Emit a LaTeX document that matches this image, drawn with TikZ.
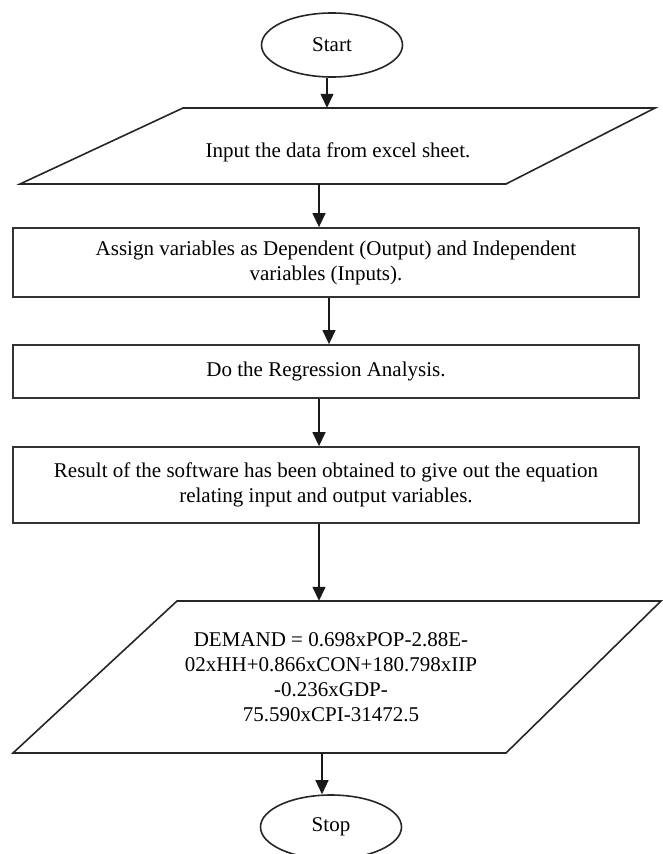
\documentclass[tikz,border=0pt]{standalone}
\usepackage{fontspec}
\setmainfont{Liberation Serif}
\usetikzlibrary{shapes.geometric,arrows.meta}
\begin{document}
\begin{tikzpicture}[x=1pt,y=-1pt,
  every node/.style={font=\fontsize{21}{25}\selectfont},
  term/.style={ellipse, draw=black!85, line width=1.6pt, minimum width=141pt, minimum height=64pt, inner sep=0pt},
  procbox/.style={rectangle, draw=black!80, line width=1.8pt, minimum width=626pt, inner sep=0pt, align=center},
  iotext/.style={draw=none, inner sep=0pt, align=center, minimum width=300pt},
  para/.style={draw=black!85, line width=1.6pt, line join=miter},
  arr/.style={-{Triangle[length=14pt,width=13pt]}, line width=1.4pt, draw=black!90}]
\useasboundingbox (0,0) rectangle (663,854);

% terminals
\node[term] (start) at (332,45) {Start};
\node[term] (stop) at (331,827) {Stop};

% input parallelogram
\draw[para] (20,184) -- (506,184) -- (655,108) -- (183,108) -- cycle;
\node[iotext, minimum height=76pt] (p1) at (338,146) {};
\node[iotext] (p1t) at (338,152) {Input the data from excel sheet.};

% process boxes
\node[procbox, minimum height=69pt] (b1) at (326,262.5)
  {\hspace*{20pt}Assign variables as Dependent (Output) and Independent\\variables (Inputs).};
\node[procbox, minimum height=53pt] (b2) at (326,371.5) {Do the Regression Analysis.};
\node[procbox, minimum height=76pt] (b3) at (326,485)
  {Result of the software has been obtained to give out the equation\\relating input and output variables.};

% output parallelogram
\draw[para] (13,753) -- (506,753) -- (661,601) -- (177,601) -- cycle;
\node[iotext, minimum height=152pt] (p2) at (331,677)
  {DEMAND = 0.698xPOP-2.88E-\\02xHH+0.866xCON+180.798xIIP\\-0.236xGDP-\\75.590xCPI-31472.5};

% connectors
\draw[arr] ([xshift=-5pt]start.south) -- ([xshift=-5pt]start.south |- p1.north);
\draw[arr] ([xshift=-19pt]p1.south) -- ([xshift=-19pt]p1.south |- b1.north);
\draw[arr] ([xshift=3pt]b1.south) -- ([xshift=3pt]b1.south |- b2.north);
\draw[arr] ([xshift=-7pt]b2.south) -- ([xshift=-7pt]b2.south |- b3.north);
\draw[arr] ([xshift=-7pt]b3.south) -- ([xshift=-7pt]b3.south |- p2.north);
\draw[arr] ([xshift=-9pt]p2.south) -- ([xshift=-9pt]p2.south |- stop.north);
\end{tikzpicture}
\end{document}
